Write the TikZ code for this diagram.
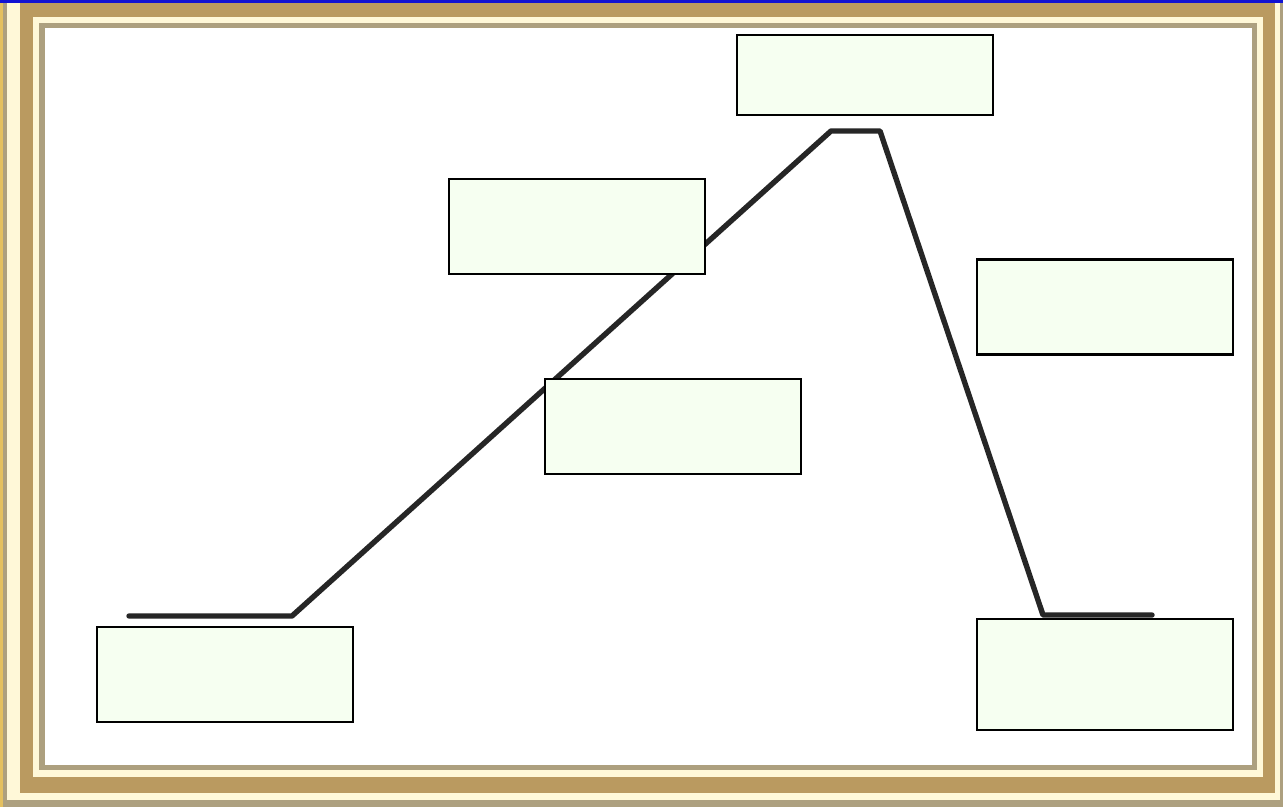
\documentclass[tikz,border=0pt]{standalone}
\begin{document}
\begin{tikzpicture}[x=0.5pt,y=-0.5pt,
  box/.style={draw=black,line width=1.3pt,fill=boxfill,rectangle,inner sep=0pt,
    minimum width=128pt,minimum height=47.5pt},
  plotline/.style={draw=black!85,line width=2.7pt,line join=round,line cap=round}]
\definecolor{boxfill}{HTML}{F6FFF1}
\definecolor{gold}{HTML}{BA9A60}
\definecolor{cream}{HTML}{FFF8D8}
\definecolor{tanline}{HTML}{ADA07F}
\definecolor{topblue}{HTML}{1212D2}
\definecolor{leftedge}{HTML}{E4C060}
\useasboundingbox (0,0) rectangle (1283,807);
% frame
\fill[cream] (0,0) rectangle (1283,807);
\fill[tanline] (3,0) rectangle (1283,807);
\fill[cream] (7,0) rectangle (1280,800);
\fill[gold] (20,3) rectangle (1275,793);
\fill[cream] (33,17) rectangle (1263,777);
\fill[tanline] (39,23) rectangle (1257,770);
\fill[white] (45,28) rectangle (1252,765);
\fill[leftedge] (0,0) rectangle (3,807);
\fill[topblue] (0,0) rectangle (1283,3.5);
% plot line
\coordinate (p1) at (129,616);
\coordinate (p2) at (292,616);
\coordinate (p3) at (831,131);
\coordinate (p4) at (880,131);
\coordinate (p5) at (1043,615);
\coordinate (p6) at (1152,615);
\draw[plotline] (p1) -- (p2) -- (p3) -- (p4) -- (p5) -- (p6);
% boxes
\node[box,minimum height=40pt] (climax) at (865,75) {};
\node[box] (rising) at (577,226.5) {};
\node[box] (risingb) at (673,426.5) {};
\node[box] (falling) at (1105,307) {};
\node[box] (exposition) at (225,674.5) {};
\node[box,minimum height=55.5pt] (resolution) at (1105,674.5) {};
\end{tikzpicture}
\end{document}
